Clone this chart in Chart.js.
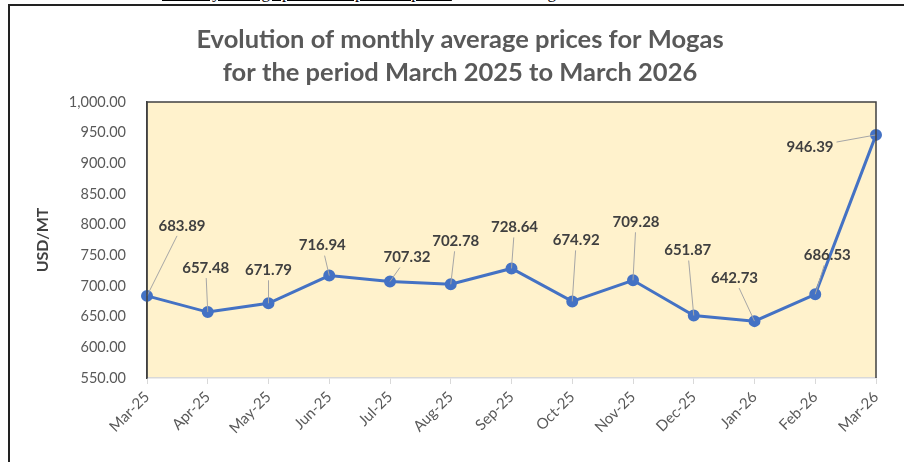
<!DOCTYPE html>
<html>
<head>
<meta charset="utf-8">
<script src="https://cdn.jsdelivr.net/npm/chart.js@4"></script>
<style>
  html, body { margin: 0; padding: 0; background: #fff; }
  body { width: 904px; height: 462px; position: relative; overflow: hidden; }
  .frame { position: absolute; left: 8px; top: 4px; width: 1000px; height: 600px;
           border-left: 2px solid #222; border-top: 2px solid #222; }
  .cut { position: absolute; top: -17px; left: 162px; font: 17px "Liberation Serif", serif; color: #000; white-space: nowrap; }
  .cut u { display: inline-block; width: 284px; text-decoration-thickness: 2px; }
  #chart { position: absolute; left: 0; top: 0; }
</style>
</head>
<body>
<div class="cut"><u>Monthly average petroleum product prices</u><span style="margin-left:78px">Mogas</span></div>
<div class="frame"></div>
<canvas id="chart" width="904" height="462"></canvas>
<script>
const months = ["Mar-25", "Apr-25", "May-25", "Jun-25", "Jul-25", "Aug-25", "Sep-25",
                "Oct-25", "Nov-25", "Dec-25", "Jan-26", "Feb-26", "Mar-26"];
const mogasPrices = [683.89, 657.48, 671.79, 716.94, 707.32, 702.78, 728.64,
                     674.92, 709.28, 651.87, 642.73, 686.53, 946.39];
const titleLines = ["Evolution of monthly average prices for Mogas",
                    "for the period March 2025 to March 2026"];
const yTitle = "USD/MT";

const textGrey = "#595959";
const darkGrey = "#404040";
const lineBlue = "#4472C4";

// where Excel dragged each data label to, relative to its point
const labelShift = [[35, -70], [-2, -44], [0, -33], [-7, -30], [17, -24], [5, -43], [3, -41],
                    [4, -61], [3, -58], [-6, -65], [-20, -43], [12, -39], [-66, 12]];

const plotBox = {
  id: "plotBox",
  beforeDraw(chart) {
    const { ctx, chartArea: a } = chart;
    ctx.save();
    ctx.fillStyle = "#FFF2CC";
    ctx.fillRect(a.left, a.top, a.right - a.left, a.bottom - a.top);
    ctx.restore();
  },
  afterDraw(chart) {
    const { ctx, chartArea: a } = chart;
    ctx.save();
    ctx.strokeStyle = darkGrey;
    ctx.lineWidth = 1.5;
    ctx.beginPath();
    ctx.moveTo(a.left, a.bottom);
    ctx.lineTo(a.left, a.top);
    ctx.lineTo(a.right, a.top);
    ctx.lineTo(a.right, a.bottom);
    ctx.stroke();
    ctx.restore();
  }
};

const valueLabels = {
  id: "valueLabels",
  afterDatasetsDraw(chart) {
    const { ctx } = chart;
    const pts = chart.getDatasetMeta(0).data;
    ctx.save();
    ctx.font = "bold 15px Lato";
    ctx.textAlign = "center";
    ctx.textBaseline = "middle";
    pts.forEach((p, i) => {
      const txt = mogasPrices[i].toFixed(2);
      const cx = p.x + labelShift[i][0];
      const cy = p.y + labelShift[i][1];
      const hw = ctx.measureText(txt).width / 2 + 3;
      const hh = 10;
      // leader line from the point to the edge of the label box
      const dx = p.x - cx, dy = p.y - cy;
      const t = Math.min(Math.abs(dx) > 0 ? hw / Math.abs(dx) : Infinity,
                         Math.abs(dy) > 0 ? hh / Math.abs(dy) : Infinity);
      if (t < 0.8) {
        ctx.strokeStyle = "#A6A6A6";
        ctx.lineWidth = 1;
        ctx.beginPath();
        ctx.moveTo(cx + dx * t, cy + dy * t);
        ctx.lineTo(p.x, p.y);
        ctx.stroke();
      }
      ctx.fillStyle = darkGrey;
      ctx.fillText(txt, cx, cy);
    });
    ctx.restore();
  }
};

new Chart(document.getElementById("chart"), {
  type: "line",
  data: {
    labels: months,
    datasets: [{
      data: mogasPrices,
      borderColor: lineBlue,
      backgroundColor: lineBlue,
      borderWidth: 3,
      pointRadius: 4.5,
      pointBackgroundColor: lineBlue,
      pointBorderColor: lineBlue,
      tension: 0,
      clip: false,
    }],
  },
  options: {
    responsive: false,
    animation: false,
    layout: { padding: { left: 16, right: 0 } },
    plugins: {
      legend: { display: false },
      tooltip: { enabled: false },
      title: {
        display: true,
        text: titleLines,
        color: textGrey,
        font: { family: "Lato", size: 25.5, weight: "bold", lineHeight: 1.3 },
        padding: { top: 23.5, bottom: 12.2 },
      },
    },
    scales: {
      x: {
        offset: false,
        grid: { drawOnChartArea: false, drawTicks: true, tickLength: 6, color: "#D9D9D9" },
        border: { color: "#D9D9D9", width: 1.5 },
        ticks: {
          color: textGrey,
          font: { family: "Lato", size: 15 },
          minRotation: 45,
          maxRotation: 45,
          padding: 4,
        },
        afterFit(scale) { scale.height = 84; scale.paddingRight = 28; },
      },
      y: {
        min: 550,
        max: 1000,
        grid: { display: false },
        border: { color: darkGrey, width: 1.5 },
        ticks: {
          stepSize: 50,
          color: textGrey,
          font: { family: "Lato", size: 14.5 },
          padding: 13,
          callback: v => v.toLocaleString("en-US", { minimumFractionDigits: 2, maximumFractionDigits: 2 }),
        },
        title: {
          display: true,
          text: yTitle,
          color: darkGrey,
          font: { family: "Lato", size: 16, weight: "bold" },
          padding: { top: 17, bottom: 0 },
        },
        afterFit(scale) { scale.width = 131; },
      },
    },
  },
  plugins: [plotBox, valueLabels],
});
</script>
</body>
</html>
